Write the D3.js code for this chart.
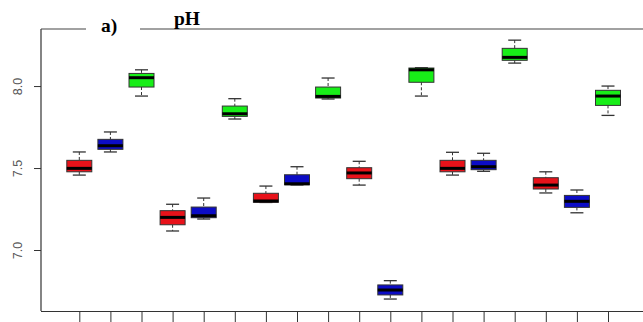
<!DOCTYPE html>
<html>
<head>
<meta charset="utf-8">
<script src="https://cdn.jsdelivr.net/npm/d3@7"></script>
<style>
  html, body { margin: 0; padding: 0; background: #fff; }
  svg { display: block; }
</style>
</head>
<body>
<svg id="chart" width="643" height="322"></svg>
<script>
// ---- data ----
const categories = ["1","2","3","4","5","6","7","8","9","10","11","12","13","14","15","16","17","18"];
const groups     = ["R","B","G","R","B","G","R","B","G","R","B","G","R","B","G","R","B","G"];
const whiskerHigh = [7.598, 7.720, 8.099, 7.279, 7.317, 7.923, 7.390, 7.508, 8.049, 7.541, 6.813, 8.112, 7.596, 7.590, 8.280, 7.477, 7.366, 8.000];
const q3          = [7.547, 7.675, 8.077, 7.240, 7.262, 7.878, 7.346, 7.459, 7.994, 7.502, 6.787, 8.110, 7.547, 7.547, 8.230, 7.441, 7.333, 7.974];
const medians     = [7.498, 7.636, 8.051, 7.199, 7.209, 7.831, 7.299, 7.404, 7.937, 7.470, 6.756, 8.099, 7.498, 7.508, 8.175, 7.396, 7.297, 7.939];
const q1          = [7.477, 7.614, 7.994, 7.154, 7.197, 7.815, 7.291, 7.398, 7.927, 7.435, 6.726, 8.023, 7.477, 7.490, 8.157, 7.372, 7.260, 7.882];
const whiskerLow  = [7.457, 7.598, 7.939, 7.116, 7.189, 7.799, 7.290, 7.397, 7.921, 7.396, 6.701, 7.939, 7.457, 7.480, 8.140, 7.348, 7.227, 7.821];
const yTicks = [7.0, 7.5, 8.0];
const panelLabel = "a)";
const title = "pH";
const groupColors = { R: "#e8121a", B: "#0c0cc6", G: "#18ee18" };

// ---- layout ----
const svg = d3.select("#chart");
const mLeft = 41, mRight = 643, mTop = 29, mBottom = 311;

const y = d3.scaleLinear().domain([6.628, 8.348]).range([mBottom, mTop]);
const x = d3.scalePoint().domain(categories).range([79.3, 608]);

const boxW = 25, capW = 13;

// frame: left axis line, top line with gap
svg.append("line").attr("x1", mLeft).attr("x2", mLeft).attr("y1", mTop).attr("y2", mBottom)
  .attr("stroke", "#333").attr("stroke-width", 1.2);
svg.append("line").attr("x1", mLeft).attr("x2", 86).attr("y1", mTop).attr("y2", mTop)
  .attr("stroke", "#444").attr("stroke-width", 1.2);
svg.append("line").attr("x1", 140).attr("x2", mRight).attr("y1", mTop).attr("y2", mTop)
  .attr("stroke", "#444").attr("stroke-width", 1.2);

// y axis
const yAxis = svg.append("g").attr("transform", `translate(${mLeft},0)`)
  .call(d3.axisLeft(y).tickValues(yTicks).tickSize(7).tickFormat(d3.format(".1f")));
yAxis.select(".domain").remove();
yAxis.selectAll(".tick line").attr("stroke", "#333");
yAxis.selectAll(".tick text")
  .attr("transform", "rotate(-90)")
  .attr("x", 0).attr("y", -23)
  .attr("dy", "0.35em")
  .attr("text-anchor", "middle")
  .attr("fill", "#555")
  .style("font-family", "Liberation Sans, Arial, sans-serif")
  .style("font-size", "12.5px");

// x axis
const xAxis = svg.append("g").attr("transform", `translate(0,${mBottom})`)
  .call(d3.axisBottom(x).tickSize(14).tickFormat(""));
xAxis.select(".domain").attr("d", `M${mLeft},0.5H${mRight}`).attr("stroke", "#333").attr("stroke-width", 1.2);
xAxis.selectAll(".tick line").attr("stroke", "#333");

// boxes
const idx = d3.range(categories.length);
const g = svg.append("g");
const bx = g.selectAll("g.box").data(idx).join("g").attr("class", "box")
  .attr("transform", i => `translate(${x(categories[i])},0)`);

// whiskers (dashed)
bx.append("line").attr("x1", 0).attr("x2", 0)
  .attr("y1", i => y(whiskerHigh[i])).attr("y2", i => y(q3[i]))
  .attr("stroke", "#333").attr("stroke-dasharray", "3,2");
bx.append("line").attr("x1", 0).attr("x2", 0)
  .attr("y1", i => y(q1[i])).attr("y2", i => y(whiskerLow[i]))
  .attr("stroke", "#333").attr("stroke-dasharray", "3,2");
// caps
bx.append("line").attr("x1", -capW/2).attr("x2", capW/2)
  .attr("y1", i => y(whiskerHigh[i])).attr("y2", i => y(whiskerHigh[i]))
  .attr("stroke", "#333").attr("stroke-width", 1.3);
bx.append("line").attr("x1", -capW/2).attr("x2", capW/2)
  .attr("y1", i => y(whiskerLow[i])).attr("y2", i => y(whiskerLow[i]))
  .attr("stroke", "#333").attr("stroke-width", 1.3);
// box
bx.append("rect").attr("x", -boxW/2).attr("width", boxW)
  .attr("y", i => y(q3[i])).attr("height", i => Math.max(1, y(q1[i]) - y(q3[i])))
  .attr("fill", i => groupColors[groups[i]])
  .attr("stroke", "#333").attr("stroke-width", 1);
// median
bx.append("line").attr("x1", -boxW/2).attr("x2", boxW/2)
  .attr("y1", i => y(medians[i])).attr("y2", i => y(medians[i]))
  .attr("stroke", "#000").attr("stroke-width", 3);

// labels
svg.append("text").attr("x", 101).attr("y", 31.5).text(panelLabel)
  .attr("font-family", "Liberation Serif, Times New Roman, serif")
  .attr("font-weight", "bold").attr("font-size", "19.5px").attr("fill", "#000");
svg.append("text").attr("x", 174).attr("y", 24.5).text(title)
  .attr("font-family", "Liberation Serif, Times New Roman, serif")
  .attr("font-weight", "bold").attr("font-size", "19.5px").attr("fill", "#000");
</script>
</body>
</html>
